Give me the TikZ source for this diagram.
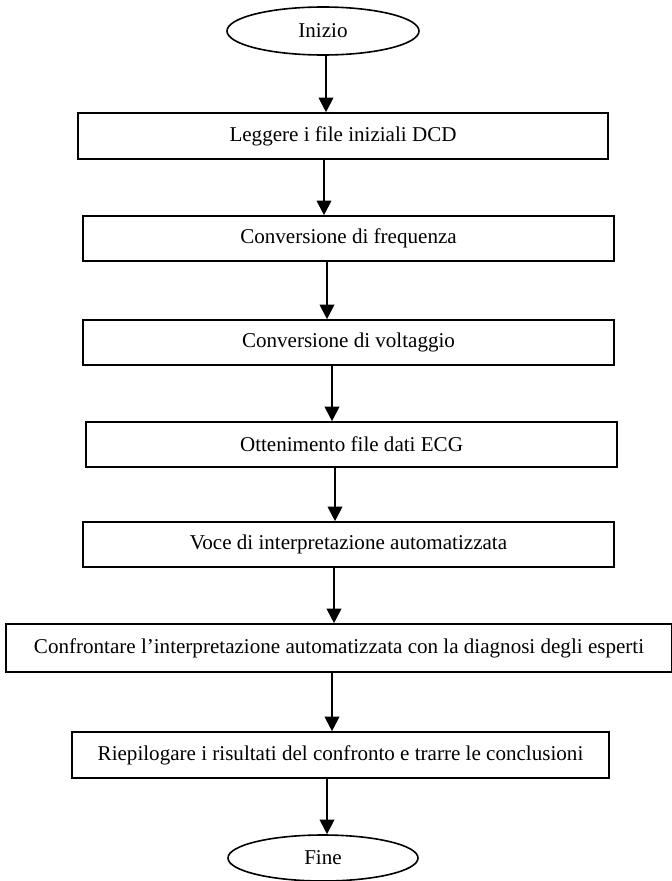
\documentclass[tikz,border=0pt]{standalone}
\usepackage{fontspec}
\setmainfont{Liberation Serif}
\usetikzlibrary{shapes.geometric,arrows.meta}

\tikzset{
  stepbox/.style={draw=black, line width=1.2pt, rectangle, inner sep=0pt,
    font=\fontsize{15.8pt}{18pt}\selectfont},
  terminal/.style={draw=black, line width=1.2pt, ellipse, inner sep=0pt,
    font=\fontsize{15.8pt}{18pt}\selectfont},
  flow/.style={draw=black, line width=1.5pt,
    -{Triangle[length=11pt, width=11pt]}},
}

\begin{document}
\begin{tikzpicture}[x=0.75pt, y=-0.75pt]
  % page frame
  \fill[white] (0,0) rectangle (671,881);
  \useasboundingbox (0,0) rectangle (671,881);

  % start / end terminals
  \node[terminal, minimum width=192*0.75pt, minimum height=48*0.75pt] (ini) at (323,31) {Inizio};
  \node[terminal, minimum width=190*0.75pt, minimum height=46*0.75pt] (fin) at (323,858) {Fine};

  % processing steps
  \node[stepbox, minimum width=530*0.75pt, minimum height=46*0.75pt] (b1) at (343,136) {Leggere i file iniziali DCD};
  \node[stepbox, minimum width=531*0.75pt, minimum height=45*0.75pt] (b2) at (348.5,238.5) {Conversione di frequenza};
  \node[stepbox, minimum width=531*0.75pt, minimum height=45*0.75pt] (b3) at (348.5,342.5) {Conversione di voltaggio};
  \node[stepbox, minimum width=531*0.75pt, minimum height=45*0.75pt] (b4) at (351.5,444.5) {Ottenimento file dati ECG};
  \node[stepbox, minimum width=531*0.75pt, minimum height=45*0.75pt] (b5) at (348.5,544.5) {Voce di interpretazione automatizzata};
  \node[stepbox, minimum width=666*0.75pt, minimum height=48*0.75pt] (b6) at (339,648) {Confrontare l’interpretazione automatizzata con la diagnosi degli esperti};
  \node[stepbox, minimum width=537*0.75pt, minimum height=46*0.75pt] (b7) at (340.5,755) {Riepilogare i risultati del confronto e trarre le conclusioni};

  % connectors
  \draw[flow] (ini.south -| 326,0) -- (b1.north -| 326,0);
  \draw[flow] (b1.south -| 324,0) -- (b2.north -| 324,0);
  \draw[flow] (b2.south -| 327,0) -- (b3.north -| 327,0);
  \draw[flow] (b3.south -| 332,0) -- (b4.north -| 332,0);
  \draw[flow] (b4.south -| 335,0) -- (b5.north -| 335,0);
  \draw[flow] (b5.south -| 334,0) -- (b6.north -| 334,0);
  \draw[flow] (b6.south -| 332,0) -- (b7.north -| 332,0);
  \draw[flow] (b7.south -| 327,0) -- (fin.north -| 327,0);
\end{tikzpicture}
\end{document}
